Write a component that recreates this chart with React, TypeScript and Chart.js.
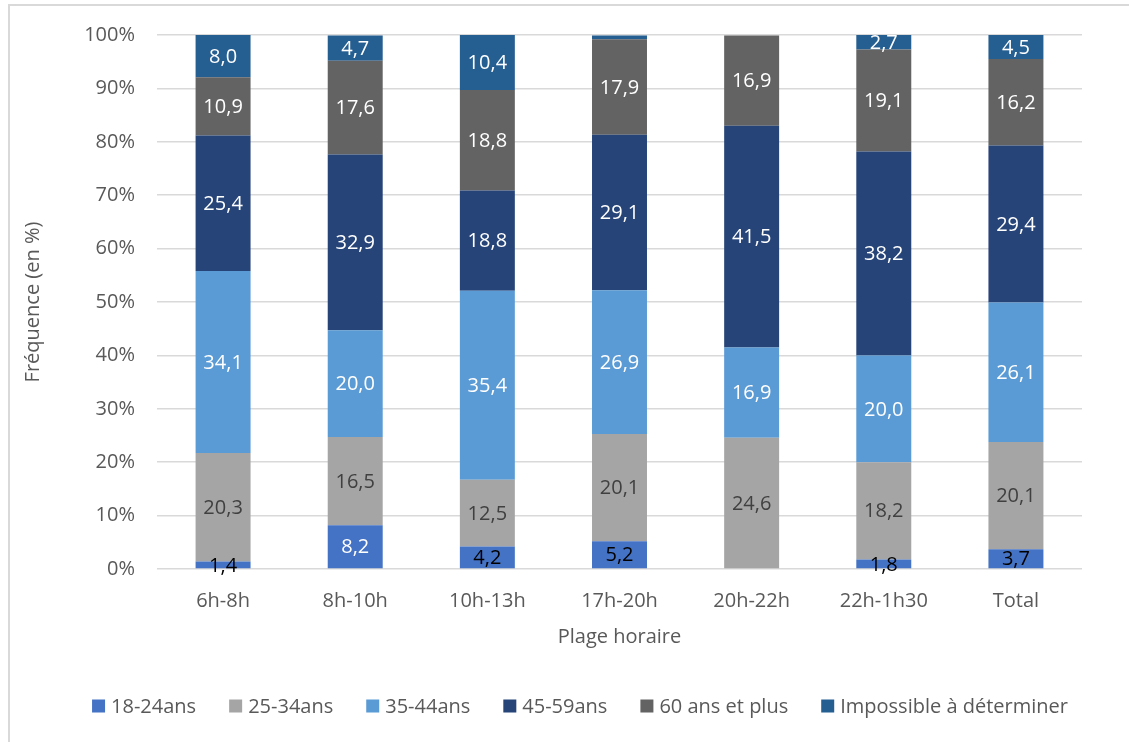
import React, { useEffect, useRef } from "react";
import { Chart, registerables } from "chart.js";

Chart.register(...registerables);

// Time slots (x categories)
const plages = ["6h-8h", "8h-10h", "10h-13h", "17h-20h", "20h-22h", "22h-1h30", "Total"];

// Age groups, share of each time slot (%)
const ages18_24 = [1.4, 8.2, 4.2, 5.2, null, 1.8, 3.7];
const ages25_34 = [20.3, 16.5, 12.5, 20.1, 24.6, 18.2, 20.1];
const ages35_44 = [34.1, 20.0, 35.4, 26.9, 16.9, 20.0, 26.1];
const ages45_59 = [25.4, 32.9, 18.8, 29.1, 41.5, 38.2, 29.4];
const ages60plus = [10.9, 17.6, 18.8, 17.9, 16.9, 19.1, 16.2];
const indetermine = [8.0, 4.7, 10.4, 0.7, null, 2.7, 4.5];

const seriesLabels = [
  "18-24ans",
  "25-34ans",
  "35-44ans",
  "45-59ans",
  "60 ans et plus",
  "Impossible à déterminer",
];

const yTicks = [0, 10, 20, 30, 40, 50, 60, 70, 80, 90, 100];

const FONT = "'Open Sans', sans-serif";
const GREY_TEXT = "#595959";

const seriesColors = ["#4472C4", "#A5A5A5", "#5B9BD5", "#264478", "#636363", "#255E91"];
// label colour per series (the first series uses per-point colours)
const labelColors: (string | string[])[] = [
  ["#000000", "#FFFFFF", "#000000", "#000000", "#000000", "#000000", "#000000"],
  "#404040",
  "#FFFFFF",
  "#FFFFFF",
  "#FFFFFF",
  "#FFFFFF",
];

const fmt = (v: number) => v.toFixed(1).replace(".", ",");

// Draws each segment's value in its middle
const valueLabels = {
  id: "valueLabels",
  afterDatasetsDraw(chart: any) {
    const ctx = chart.ctx;
    ctx.save();
    ctx.font = `20px ${FONT}`;
    ctx.textAlign = "center";
    ctx.textBaseline = "middle";
    chart.data.datasets.forEach((ds: any, di: number) => {
      const meta = chart.getDatasetMeta(di);
      meta.data.forEach((bar: any, i: number) => {
        const v = ds.data[i];
        if (v == null || v < 1) return;
        const c = labelColors[di];
        ctx.fillStyle = Array.isArray(c) ? c[i] : c;
        const yMid = (bar.y + bar.base) / 2;
        ctx.fillText(fmt(v), bar.x, yMid + 1);
      });
    });
    ctx.restore();
  },
};

// Legend row under the axis title
const bottomLegend = {
  id: "bottomLegend",
  afterDraw(chart: any) {
    const ctx = chart.ctx;
    ctx.save();
    ctx.font = `20px ${FONT}`;
    ctx.textBaseline = "middle";
    ctx.textAlign = "left";
    const box = 13;
    const gapBox = 6;
    const gapItem = 33;
    const widths = chart.data.datasets.map((ds: any) => ctx.measureText(ds.label).width);
    const total =
      widths.reduce((a: number, w: number) => a + box + gapBox + w, 0) +
      gapItem * (widths.length - 1);
    let x = 580 - total / 2;
    const y = 706;
    chart.data.datasets.forEach((ds: any, i: number) => {
      ctx.fillStyle = ds.backgroundColor;
      ctx.fillRect(x, y - box / 2, box, box);
      x += box + gapBox;
      ctx.fillStyle = GREY_TEXT;
      ctx.fillText(ds.label, x, y + 1);
      x += widths[i] + gapItem;
    });
    ctx.restore();
  },
};

export default function App() {
  const canvasRef = useRef<HTMLCanvasElement | null>(null);

  useEffect(() => {
    if (!canvasRef.current) return;
    const values = [ages18_24, ages25_34, ages35_44, ages45_59, ages60plus, indetermine];
    const chart = new Chart(canvasRef.current, {
      type: "bar",
      data: {
        labels: plages,
        datasets: values.map((d, i) => ({
          label: seriesLabels[i],
          data: d as any,
          backgroundColor: seriesColors[i],
          borderWidth: 0,
          barPercentage: 0.416,
          categoryPercentage: 1,
        })),
      },
      options: {
        responsive: false,
        animation: false,
        layout: { padding: { left: 21, top: 35, right: 47, bottom: 93 } },
        plugins: {
          legend: { display: false },
          tooltip: { enabled: false },
        },
        scales: {
          x: {
            stacked: true,
            grid: { display: false, drawTicks: false },
            border: { display: false },
            ticks: { color: GREY_TEXT, font: { family: FONT, size: 20 }, padding: 20 },
            title: {
              display: true,
              text: "Plage horaire",
              color: GREY_TEXT,
              font: { family: FONT, size: 20 },
              padding: 0,
            },
            afterFit: (s: any) => {
              s.height = 80;
            },
          },
          y: {
            stacked: true,
            min: 0,
            max: 100,
            afterBuildTicks: (s: any) => {
              s.ticks = yTicks.map((v) => ({ value: v }));
            },
            grid: { color: "#D9D9D9", lineWidth: 1.5, drawTicks: false },
            border: { display: false },
            ticks: {
              color: GREY_TEXT,
              font: { family: FONT, size: 20 },
              padding: 22,
              callback: (v: any) => `${v}%`,
            },
            title: {
              display: true,
              text: "Fréquence (en %)",
              color: GREY_TEXT,
              font: { family: FONT, size: 20 },
              padding: 0,
            },
            afterFit: (s: any) => {
              s.width = 136;
            },
          },
        },
      },
      plugins: [valueLabels, bottomLegend],
    });
    return () => chart.destroy();
  }, []);

  return (
    <div style={{ position: "fixed", inset: 0, overflow: "hidden", background: "#fff" }}>
      <div
        style={{
          position: "absolute",
          left: 8,
          top: 4,
          width: 1200,
          height: 800,
          borderLeft: "2px solid #D9D9D9",
          borderTop: "2px solid #D9D9D9",
        }}
      />
      <canvas
        ref={canvasRef}
        width={1129}
        height={742}
        style={{ position: "absolute", left: 0, top: 0 }}
      />
    </div>
  );
}
